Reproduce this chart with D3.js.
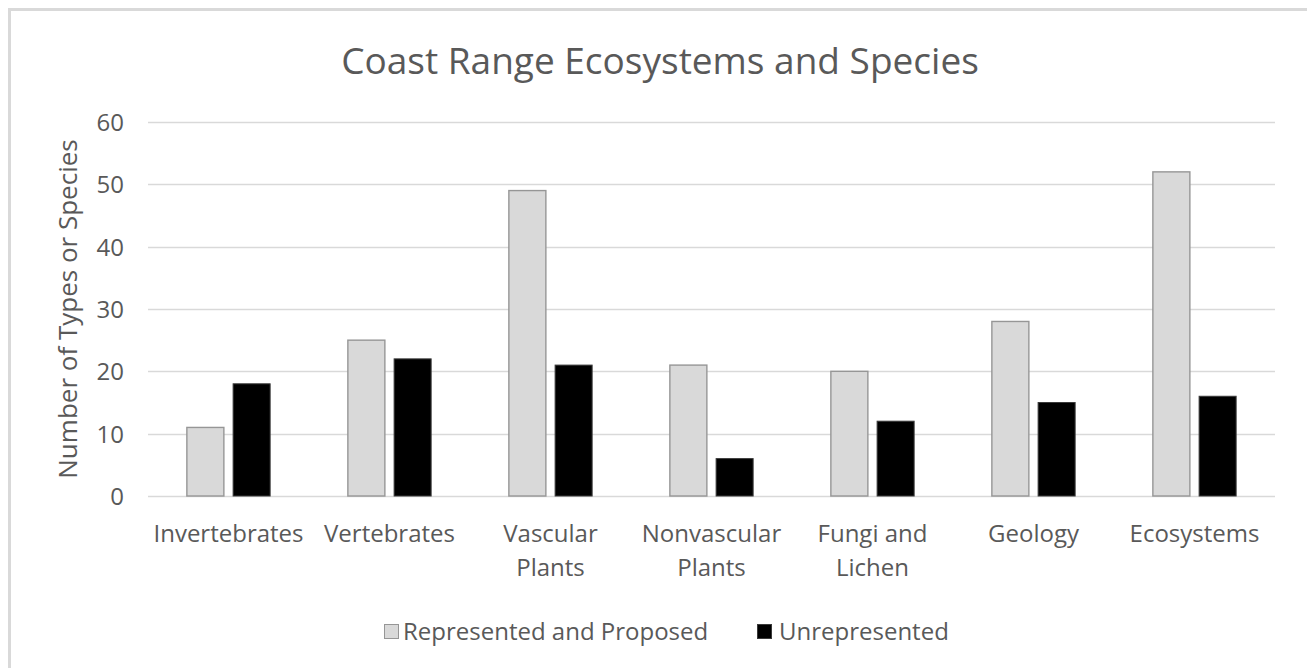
<!DOCTYPE html>
<html>
<head>
<meta charset="utf-8">
<script src="https://cdn.jsdelivr.net/npm/d3@7"></script>
<style>
  html, body { margin: 0; padding: 0; background: #fff; }
  svg { display: block; font-family: "Open Sans", "Noto Sans", sans-serif; }
</style>
</head>
<body>
<svg id="chart" width="1307" height="668"></svg>
<script>
// Chart data
const categories = [
  ["Invertebrates"],
  ["Vertebrates"],
  ["Vascular", "Plants"],
  ["Nonvascular", "Plants"],
  ["Fungi and", "Lichen"],
  ["Geology"],
  ["Ecosystems"]
];
const seriesNames = ["Represented and Proposed", "Unrepresented"];
const represented = [11, 25, 49, 21, 20, 28, 52];
const unrepresented = [18, 22, 21, 6, 12, 15, 16];
const yTicks = [0, 10, 20, 30, 40, 50, 60];
const titleText = "Coast Range Ecosystems and Species";
const yTitle = "Number of Types or Species";

const W = 1307, H = 668;
const plot = { left: 148, right: 1275, top: 122, bottom: 496 };
const textColor = "#595959";
const gridColor = "#d9d9d9";
const fills = ["#d9d9d9", "#000000"];
const strokes = ["#969696", "#3a3a3a"];

const svg = d3.select("#chart");

// outer chart border (only top/left edges fall inside the view)
svg.append("rect")
  .attr("x", 9.5).attr("y", 9.5)
  .attr("width", 1400).attr("height", 800)
  .attr("fill", "none")
  .attr("stroke", gridColor)
  .attr("stroke-width", 3);

const catKeys = categories.map(c => c.join(" "));
const x0 = d3.scaleBand().domain(catKeys).range([plot.left, plot.right]).padding(0);
const x1 = d3.scaleBand().domain(seriesNames)
  .range([0, x0.bandwidth()])
  .paddingInner(0.2)
  .paddingOuter(0.84);
const y = d3.scaleLinear().domain([0, 60]).range([plot.bottom, plot.top]);

// gridlines
svg.append("g")
  .selectAll("line")
  .data(yTicks)
  .join("line")
  .attr("x1", plot.left).attr("x2", plot.right)
  .attr("y1", d => Math.round(y(d)) + 0.5)
  .attr("y2", d => Math.round(y(d)) + 0.5)
  .attr("stroke", gridColor)
  .attr("stroke-width", 1.3);

// y-axis tick labels
const yAxis = d3.axisLeft(y).tickValues(yTicks).tickSize(0).tickPadding(0);
const yg = svg.append("g")
  .attr("transform", `translate(124,0)`)
  .call(yAxis);
yg.select(".domain").remove();
yg.selectAll("text")
  .attr("fill", textColor)
  .attr("font-size", 24)
  .attr("font-family", "'Open Sans', sans-serif")
  .attr("dy", "0.36em");

// bars
const rows = categories.map((c, i) => ({
  key: catKeys[i],
  values: [represented[i], unrepresented[i]]
}));
const groups = svg.append("g")
  .selectAll("g")
  .data(rows)
  .join("g")
  .attr("transform", d => `translate(${x0(d.key)},0)`);
groups.selectAll("rect")
  .data(d => d.values.map((v, k) => ({ v, k })))
  .join("rect")
  .attr("x", d => x1(seriesNames[d.k]))
  .attr("y", d => y(d.v))
  .attr("width", x1.bandwidth())
  .attr("height", d => y(0) - y(d.v))
  .attr("fill", d => fills[d.k])
  .attr("stroke", d => strokes[d.k])
  .attr("stroke-width", d => d.k === 0 ? 1.4 : 1);

// category labels
const catG = svg.append("g");
categories.forEach((lines, i) => {
  const cx = x0(catKeys[i]) + x0.bandwidth() / 2;
  const t = catG.append("text")
    .attr("text-anchor", "middle")
    .attr("fill", textColor)
    .attr("font-size", 24);
  lines.forEach((ln, j) => {
    t.append("tspan").attr("x", cx).attr("y", 542 + j * 34).text(ln);
  });
});

// title
svg.append("text")
  .attr("x", 660).attr("y", 74)
  .attr("text-anchor", "middle")
  .attr("fill", textColor)
  .attr("font-size", 37)
  .text(titleText);

// y-axis title
svg.append("text")
  .attr("transform", `translate(77,${(plot.top + plot.bottom) / 2}) rotate(-90)`)
  .attr("text-anchor", "middle")
  .attr("fill", textColor)
  .attr("font-size", 26)
  .text(yTitle);

// legend
const legendItems = [
  { name: seriesNames[0], sx: 384, tx: 403 },
  { name: seriesNames[1], sx: 757, tx: 779 }
];
const lg = svg.append("g");
legendItems.forEach((it, k) => {
  lg.append("rect")
    .attr("x", it.sx + 0.5).attr("y", 624.5)
    .attr("width", 14).attr("height", 14)
    .attr("fill", fills[k])
    .attr("stroke", strokes[k])
    .attr("stroke-width", 1);
  lg.append("text")
    .attr("x", it.tx).attr("y", 640)
    .attr("fill", textColor)
    .attr("font-size", 24)
    .text(it.name);
});
</script>
</body>
</html>
